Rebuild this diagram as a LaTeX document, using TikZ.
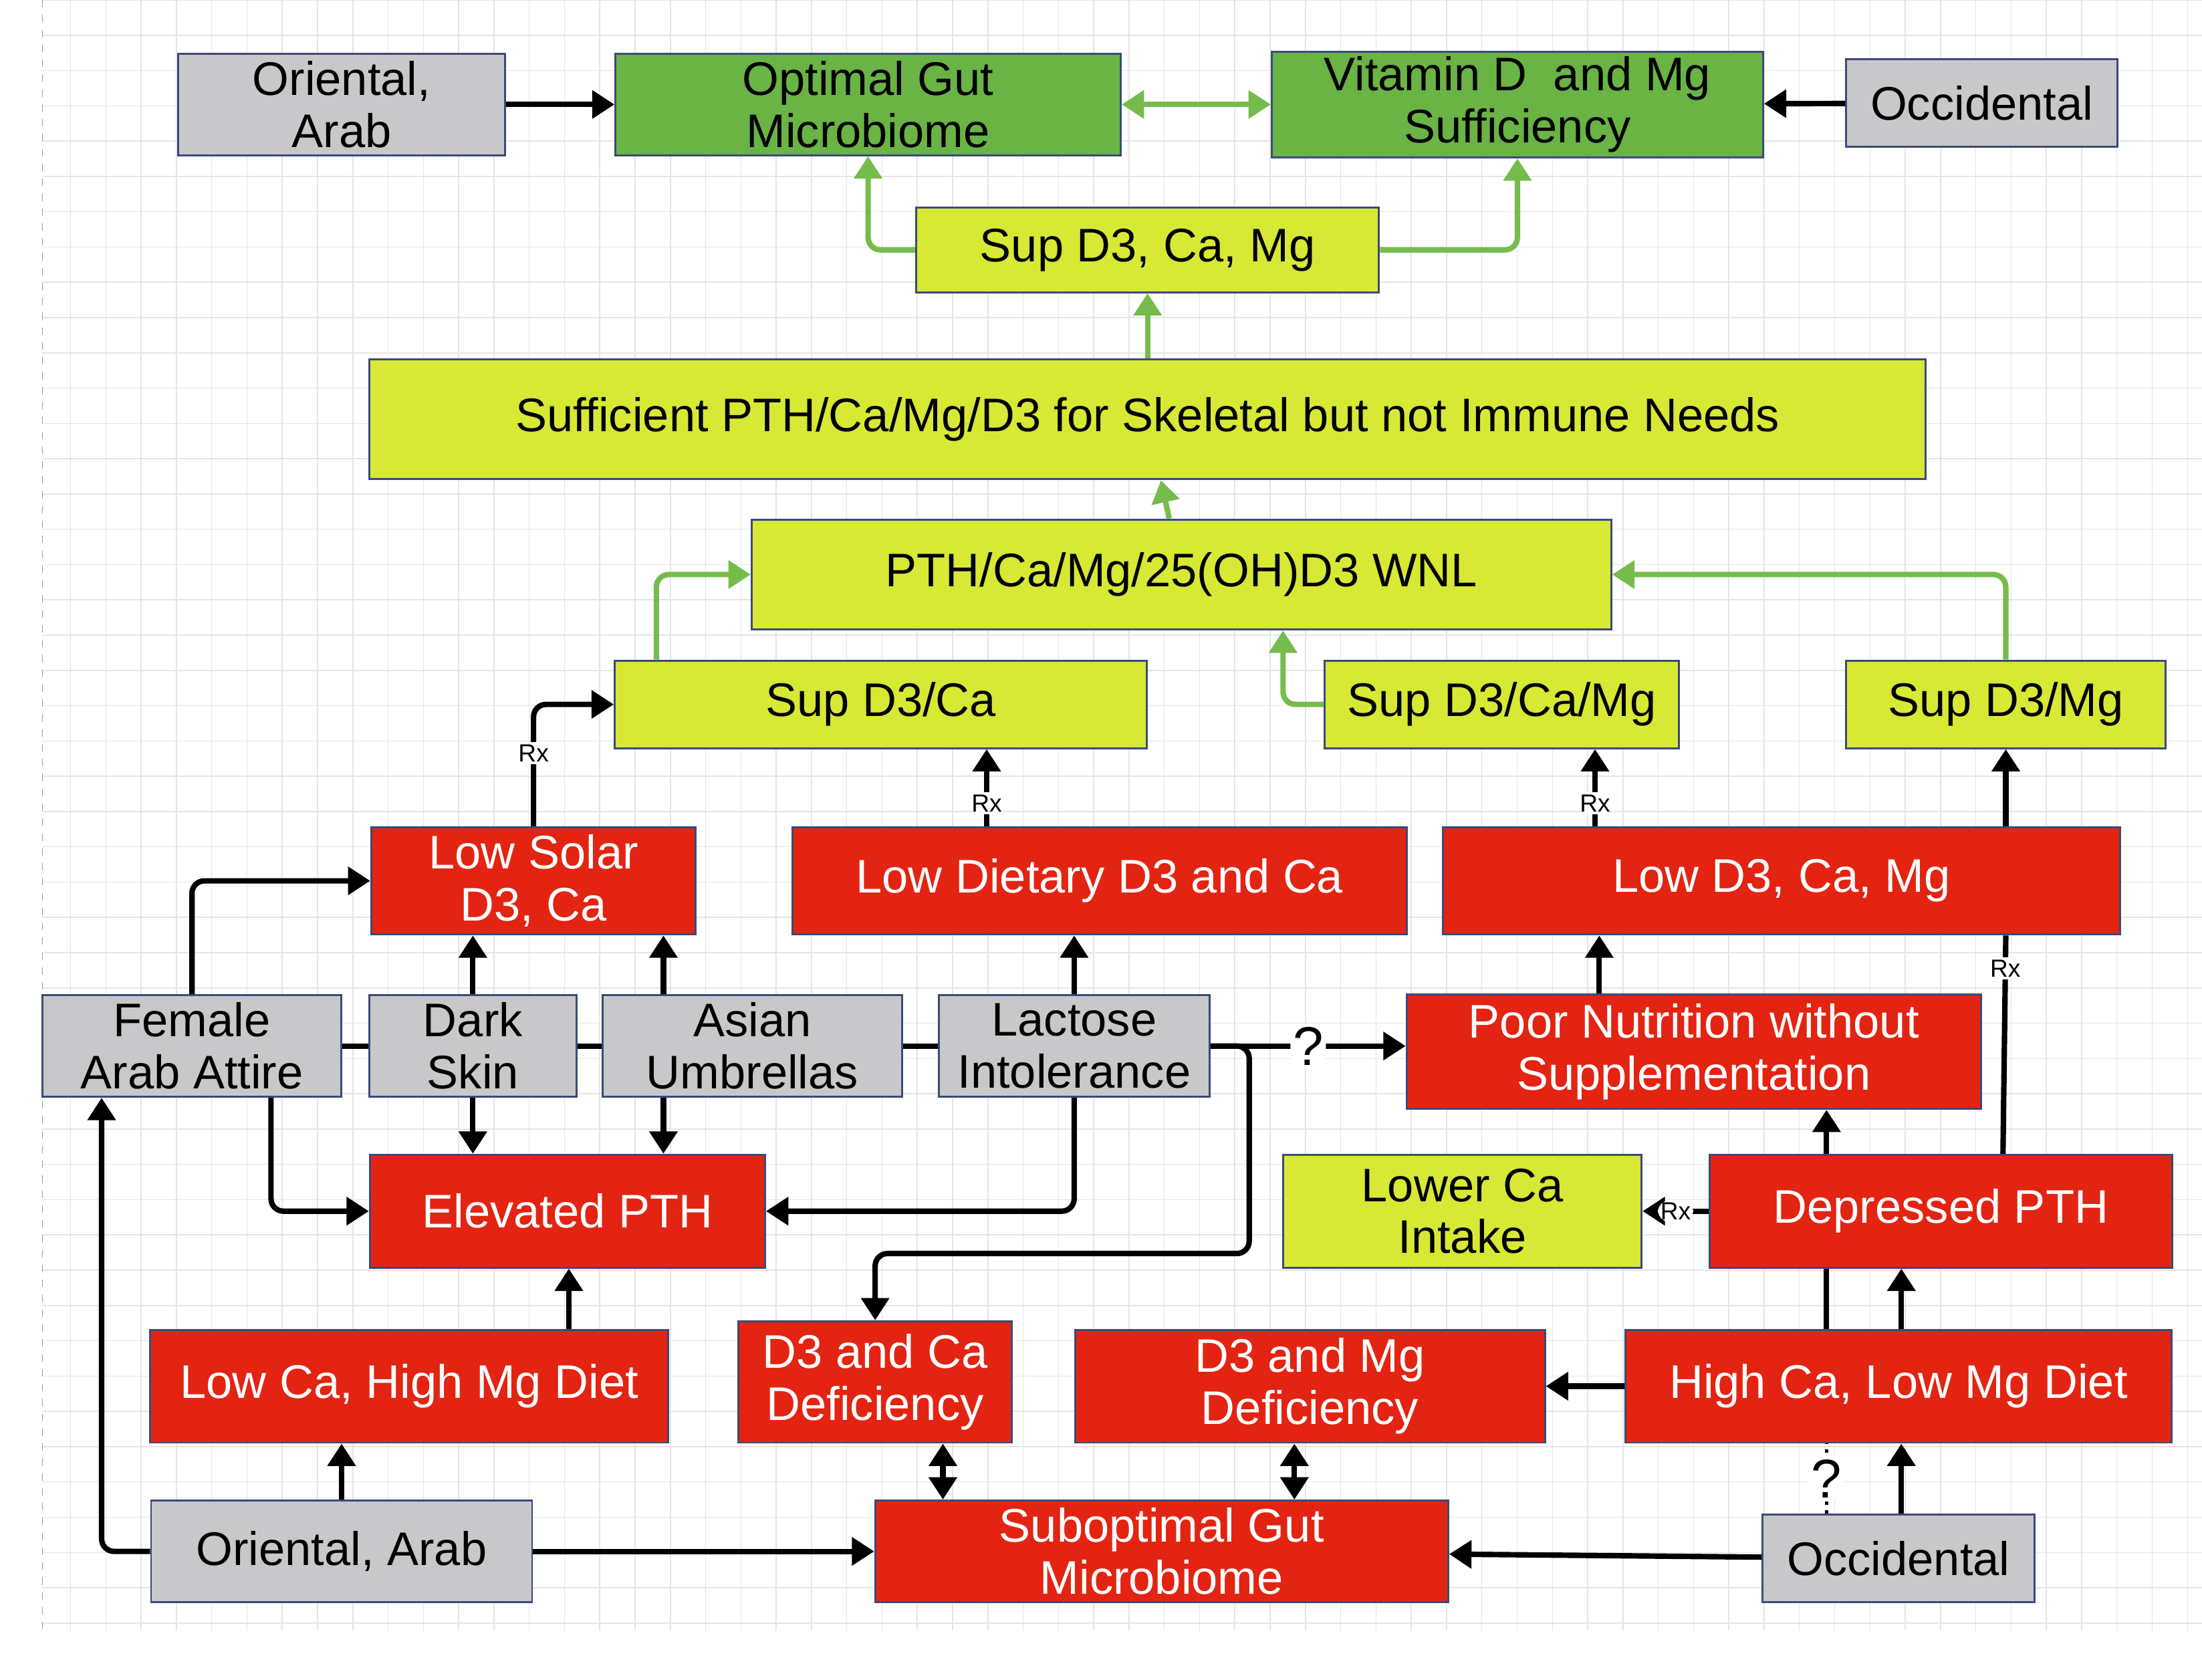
\documentclass[tikz,border=0pt]{standalone}
\usepackage{fontspec}
\setmainfont{Liberation Sans}
\usetikzlibrary{positioning,calc,arrows.meta}
\definecolor{boxgray}{HTML}{C8C8CA}
\definecolor{boxgreen}{HTML}{6AB345}
\definecolor{boxlime}{HTML}{D7E835}
\definecolor{boxred}{HTML}{E32412}
\definecolor{edgeblue}{HTML}{3B4A7A}
\definecolor{arrgreen}{HTML}{76BC4C}
\begin{document}
\begin{tikzpicture}[
        x=0.02cm, y=-0.02cm,
        every node/.style={align=center, inner sep=2pt, font=\fontsize{19}{21}\selectfont},
        gbox/.style={draw=edgeblue, fill=boxgray, thick},
        green box/.style={draw=edgeblue, fill=boxgreen, thick},
        lime box/.style={draw=edgeblue, fill=boxlime, thick},
        red box/.style={draw=edgeblue, fill=boxred, text=white, thick},
        blk/.style={line width=2.2pt, -{Triangle[length=9pt,width=11pt]}, rounded corners=5pt},
        blkline/.style={line width=2.2pt, rounded corners=5pt},
        grn/.style={line width=2.2pt, draw=arrgreen, -{Triangle[length=9pt,width=11pt]}, rounded corners=5pt},
        rx/.style={fill=white, inner sep=1pt, font=\fontsize{10}{11}\selectfont},
        >=latex
      ]
      \useasboundingbox (0,0) rectangle (1560,1190);
      % grid
      \draw[black!10, line width=0.4pt] (30,0) grid[step=0.5cm] (1560,1155);
      \draw[black!40, dashed] (30,0) -- (30,1155);
      % top row
      \node[gbox, minimum width=4.64cm, minimum height=1.44cm] (oa1) at (242,74) {Oriental,\\Arab};
      \node[green box, minimum width=7.16cm, minimum height=1.44cm] (ogm) at (615,74) {Optimal Gut\\Microbiome};
      \node[green box, minimum width=6.96cm, minimum height=1.44cm] (vdm) at (1075,74) {Vitamin D\ \ and Mg\\Sufficiency};
      \node[gbox, minimum width=3.84cm, minimum height=1.24cm] (occ1) at (1404,73) {Occidental};
      \node[lime box, minimum width=6.56cm, minimum height=1.2cm] (supall) at (813,177) {Sup D3, Ca, Mg};
      \node[lime box, minimum width=22.06cm, minimum height=1.7cm] (suff) at (813,297) {Sufficient PTH/Ca/Mg/D3 for Skeletal but not Immune Needs};
      \node[lime box, minimum width=12.18cm, minimum height=1.56cm] (wnl) at (837,407) {PTH/Ca/Mg/25(OH)D3 WNL};
      \node[lime box, minimum width=7.54cm, minimum height=1.24cm] (supdca) at (624,499) {Sup D3/Ca};
      \node[lime box, minimum width=5.02cm, minimum height=1.24cm] (supdcamg) at (1064,499) {Sup D3/Ca/Mg};
      \node[lime box, minimum width=4.52cm, minimum height=1.24cm] (supdmg) at (1421,499) {Sup D3/Mg};
      % low row
      \node[red box, minimum width=4.6cm, minimum height=1.52cm] (lowsolar) at (378,624) {Low Solar\\D3, Ca};
      \node[red box, minimum width=8.7cm, minimum height=1.52cm] (lowdiet) at (779,624) {Low Dietary D3 and Ca};
      \node[red box, minimum width=9.6cm, minimum height=1.52cm] (lowall) at (1262,624) {Low D3, Ca, Mg};
      % risk factors
      \node[gbox, minimum width=4.24cm, minimum height=1.44cm] (female) at (136,741) {Female\\Arab Attire};
      \node[gbox, minimum width=2.94cm, minimum height=1.44cm] (dark) at (335,741) {Dark\\Skin};
      \node[gbox, minimum width=4.24cm, minimum height=1.44cm] (asian) at (533,741) {Asian\\Umbrellas};
      \node[gbox, minimum width=3.84cm, minimum height=1.44cm] (lactose) at (761,741) {Lactose\\Intolerance};
      \node[red box, minimum width=8.14cm, minimum height=1.62cm] (poor) at (1200,745) {Poor Nutrition without\\Supplementation};
      \node[red box, minimum width=5.6cm, minimum height=1.6cm] (elev) at (402,858) {Elevated PTH};
      \node[lime box, minimum width=5.08cm, minimum height=1.6cm] (lowerca) at (1036,858) {Lower Ca\\Intake};
      \node[red box, minimum width=6.56cm, minimum height=1.6cm] (depr) at (1375,858) {Depressed PTH};
      \node[red box, minimum width=7.34cm, minimum height=1.6cm] (lowcadiet) at (290,982) {Low Ca, High Mg Diet};
      \node[red box, minimum width=3.88cm, minimum height=1.72cm] (dca) at (620,979) {D3 and Ca\\Deficiency};
      \node[red box, minimum width=6.66cm, minimum height=1.6cm] (dmg) at (928,982) {D3 and Mg\\Deficiency};
      \node[red box, minimum width=7.74cm, minimum height=1.6cm] (highca) at (1345,982) {High Ca, Low Mg Diet};
      \node[gbox, minimum width=5.4cm, minimum height=1.44cm] (oa2) at (242,1099) {Oriental, Arab};
      \node[red box, minimum width=8.12cm, minimum height=1.44cm] (subopt) at (823,1099) {Suboptimal Gut\\Microbiome};
      \node[gbox, minimum width=3.86cm, minimum height=1.24cm] (occ2) at (1345,1104) {Occidental};
      % green arrows
      \draw[grn, {Triangle[length=9pt,width=11pt]}-{Triangle[length=9pt,width=11pt]}] (ogm) -- (vdm);
      \draw[grn] (supall.west) -| (ogm.south);
      \draw[grn] (supall.east) -| (vdm.south);
      \draw[grn] (suff) -- (supall);
      \draw[grn] (wnl) -- (suff);
      \draw[grn] (supdca.north -| 465,0) |- (wnl.west);
      \draw[grn] (supdcamg.west) -| (wnl.south -| 909,0);
      \draw[grn] (supdmg.north) |- (wnl.east);
      % black arrows
      \draw[blk] (oa1) -- (ogm);
      \draw[blk] (occ1) -- (vdm);
      \draw[blk] (lowsolar.north) |- node[rx, pos=0.3]{Rx} (supdca.west);
      \draw[blk] (lowdiet.north -| 699,0) -- node[rx, pos=0.3]{Rx} (supdca.south -| 699,0);
      \draw[blk] (lowall.north -| 1130,0) -- node[rx, pos=0.3]{Rx} (supdcamg.south -| 1130,0);
      \draw[blk] (lowall.north -| supdmg) -- (supdmg.south);
      \draw[blk] (female.north) |- (lowsolar.west);
      \draw[blk] (dark.north) -- (lowsolar.south -| dark);
      \draw[blk] (asian.north -| 470,0) -- (lowsolar.south -| 470,0);
      \draw[blk] (lactose.north) -- (lowdiet.south -| lactose);
      \draw[blkline] (female) -- (dark) -- (asian) -- (lactose);
      \draw[blk] (lactose.east) -- node[fill=white, inner sep=1pt, font=\fontsize{22}{24}\selectfont]{?} (poor.west |- lactose);
      \draw[blk] (lactose.east) -| (885,888) -| (dca.north);
      \draw[blk] (poor.north -| 1133,0) -- (lowall.south -| 1133,0);
      \draw[blk] (female.south -| 192,0) |- (elev.west);
      \draw[blk] (dark.south) -- (elev.north -| dark);
      \draw[blk] (asian.south -| 470,0) -- (elev.north -| 470,0);
      \draw[blk] (lactose.south) |- (elev.east);
      \draw[blk] (depr.west) -- node[rx, pos=0.5]{Rx} (lowerca.east);
      \draw[blk] (depr.north -| 1294,0) -- (poor.south -| 1294,0);
      \draw[blkline] (depr.north -| 1419,0) -- node[rx, pos=0.85]{Rx} (lowall.south -| 1421,0);
      \draw[blk] (highca.north -| 1347,0) -- (depr.south -| 1347,0);
      \draw[blkline] (highca.north -| 1294,0) -- (depr.south -| 1294,0);
      \draw[blk] (highca) -- (dmg);
      \draw[blk] (lowcadiet.north -| 403,0) -- (elev.south -| 403,0);
      \draw[blk] (oa2.north) -- (lowcadiet.south -| oa2);
      \draw[blk] (oa2.west) -| (female.south -| 72,0);
      \draw[blk] (oa2) -- (subopt);
      \draw[blk] (occ2) -- (subopt);
      \draw[blk] (occ2.north -| 1347,0) -- (highca.south -| 1347,0);
      \draw[line width=1.5pt, dotted] (occ2.north -| 1294,0) -- node[fill=white, inner sep=1pt, font=\fontsize{22}{24}\selectfont]{?} (highca.south -| 1294,0);
      \draw[blk, {Triangle[length=9pt,width=11pt]}-{Triangle[length=9pt,width=11pt]}] (dca.south -| 668,0) -- (subopt.north -| 668,0);
      \draw[blk, {Triangle[length=9pt,width=11pt]}-{Triangle[length=9pt,width=11pt]}] (dmg.south -| 917,0) -- (subopt.north -| 917,0);
    \end{tikzpicture}
\end{document}
